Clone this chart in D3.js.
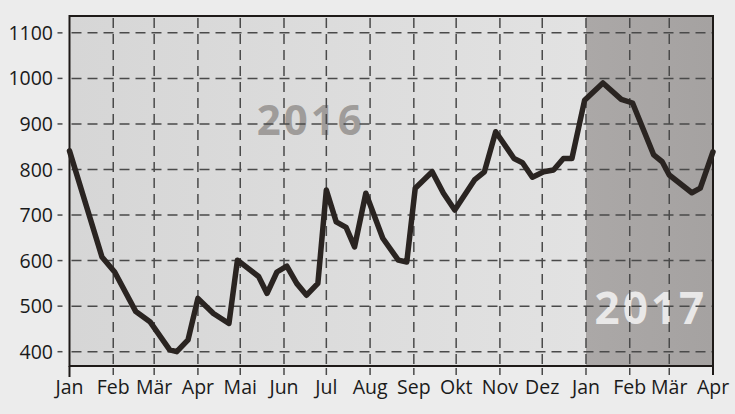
<!DOCTYPE html>
<html>
<head>
<meta charset="utf-8">
<script src="https://cdn.jsdelivr.net/npm/d3@7/dist/d3.min.js"></script>
<style>
  html, body { margin: 0; padding: 0; background: #ececec; }
  svg { display: block; }
</style>
</head>
<body>
<svg id="chart" width="735" height="414"></svg>
<script>
// ---- data ----
const dates = ["2016-01-01","2016-01-24","2016-02-02","2016-02-17","2016-02-27","2016-03-12","2016-03-17","2016-03-25","2016-04-01","2016-04-12","2016-04-23","2016-04-29","2016-05-14","2016-05-20","2016-05-27","2016-06-03","2016-06-10","2016-06-17","2016-06-25","2016-07-01","2016-07-08","2016-07-15","2016-07-21","2016-07-29","2016-08-10","2016-08-21","2016-08-27","2016-09-02","2016-09-14","2016-09-22","2016-09-30","2016-10-14","2016-10-21","2016-10-29","2016-11-11","2016-11-17","2016-11-24","2016-12-02","2016-12-09","2016-12-16","2016-12-22","2016-12-31","2017-01-13","2017-01-26","2017-02-03","2017-02-18","2017-02-24","2017-03-01","2017-03-17","2017-03-23","2017-04-01"];
const values = [841,608,575,488,466,404,400,426,517,484,462,601,565,528,575,588,550,524,550,755,685,673,630,748,649,601,597,759,795,748,711,777,795,883,824,815,783,795,799,824,824,952,990,954,946,832,817,788,749,759,839];
const monthTicks = ["2016-01-01","2016-02-01","2016-03-01","2016-04-01","2016-05-01","2016-06-01","2016-07-01","2016-08-01","2016-09-01","2016-10-01","2016-11-01","2016-12-01","2017-01-01","2017-02-01","2017-03-01","2017-04-01"];
const monthLabels = ["Jan","Feb","Mär","Apr","Mai","Jun","Jul","Aug","Sep","Okt","Nov","Dez","Jan","Feb","Mär","Apr"];
const yTicks = [400,500,600,700,800,900,1000,1100];
const periods = [{label:"2016", start:"2016-01-01", end:"2017-01-01"}, {label:"2017", start:"2017-01-01", end:"2017-04-01"}];

// ---- setup ----
const parse = d3.utcParse("%Y-%m-%d");
const svg = d3.select("#chart");
const L = 69.5, R = 713, T = 16, B = 366;
const x = d3.scaleUtc().domain([parse("2016-01-01"), parse("2017-04-01")]).range([L, R]);
const y = d3.scaleLinear().domain([368.6, 1137]).range([B, T]);
const font = "'Open Sans', sans-serif";

const defs = svg.append("defs");
const g1 = defs.append("linearGradient").attr("id","bg16").attr("x1","0").attr("x2","1").attr("y1","0").attr("y2","0");
g1.append("stop").attr("offset","0").attr("stop-color","#d6d6d6");
g1.append("stop").attr("offset","1").attr("stop-color","#e2e2e2");
const g2 = defs.append("linearGradient").attr("id","bg17").attr("x1","0").attr("x2","1").attr("y1","0").attr("y2","0");
g2.append("stop").attr("offset","0").attr("stop-color","#aba8a7");
g2.append("stop").attr("offset","1").attr("stop-color","#a5a2a1");

// period backgrounds
svg.append("rect").attr("x", x(parse(periods[0].start))).attr("y", T)
  .attr("width", x(parse(periods[0].end)) - x(parse(periods[0].start))).attr("height", B - T)
  .attr("fill", "url(#bg16)");
svg.append("rect").attr("x", x(parse(periods[1].start))).attr("y", T)
  .attr("width", x(parse(periods[1].end)) - x(parse(periods[1].start))).attr("height", B - T)
  .attr("fill", "url(#bg17)");

// year labels
svg.append("text").attr("x", x(parse("2016-06-20"))).attr("y", y(876))
  .attr("text-anchor","middle").attr("font-family",font).attr("font-weight","bold")
  .attr("font-size", 42).attr("letter-spacing", 3).attr("fill", "#9f9c9a").text(periods[0].label);
svg.append("text").attr("x", x(parse("2017-02-16"))).attr("y", y(461))
  .attr("text-anchor","middle").attr("font-family",font).attr("font-weight","bold")
  .attr("font-size", 44).attr("letter-spacing", 3).attr("fill", "#e9e8e8").text(periods[1].label);

// horizontal grid
const gridColor = "#4a4a4a";
svg.append("g").selectAll("line").data(yTicks).join("line")
  .attr("x1", L + 2).attr("x2", R).attr("y1", d => y(d)).attr("y2", d => y(d))
  .attr("stroke", gridColor).attr("stroke-width", 1.5).attr("stroke-dasharray", "10,6");
// y ticks
svg.append("g").selectAll("line").data(yTicks).join("line")
  .attr("x1", L - 12).attr("x2", L - 7).attr("y1", d => y(d)).attr("y2", d => y(d))
  .attr("stroke", gridColor).attr("stroke-width", 1.5);

// vertical grid
const innerTicks = monthTicks.slice(1, -1).map(parse);
svg.append("g").selectAll("line").data(innerTicks).join("line")
  .attr("x1", d => x(d)).attr("x2", d => x(d)).attr("y1", T + 2).attr("y2", B)
  .attr("stroke", gridColor).attr("stroke-width", 1.5).attr("stroke-dasharray", "10,6");
// x ticks below
svg.append("g").selectAll("line").data(innerTicks).join("line")
  .attr("x1", d => x(d)).attr("x2", d => x(d)).attr("y1", B + 2).attr("y2", B + 9)
  .attr("stroke", gridColor).attr("stroke-width", 1.5);

// frame
svg.append("rect").attr("x", L).attr("y", T).attr("width", R - L).attr("height", B - T)
  .attr("fill", "none").attr("stroke", "#1e1a18").attr("stroke-width", 2);
svg.append("line").attr("x1", L).attr("x2", L).attr("y1", B).attr("y2", B + 11).attr("stroke", "#1e1a18").attr("stroke-width", 2);
svg.append("line").attr("x1", R).attr("x2", R).attr("y1", B).attr("y2", B + 9).attr("stroke", "#1e1a18").attr("stroke-width", 2);

// axis labels
svg.append("g").selectAll("text").data(yTicks).join("text")
  .attr("x", 53).attr("y", d => y(d)).attr("dy", "0.36em")
  .attr("text-anchor", "end").attr("font-family", font).attr("font-size", 19.5).attr("fill", "#1a1a1a")
  .text(d => d);
svg.append("g").selectAll("text").data(monthTicks).join("text")
  .attr("x", (d) => x(parse(d))).attr("y", 394)
  .attr("text-anchor", "middle").attr("font-family", font).attr("font-size", 19.5).attr("fill", "#1a1a1a")
  .text((d, i) => monthLabels[i]);

// line
const data = dates.map((d, i) => ({ date: parse(d), value: values[i] }));
const line = d3.line().x(d => x(d.date)).y(d => y(d.value));
svg.append("path").datum(data).attr("d", line)
  .attr("fill", "none").attr("stroke", "#2a2421").attr("stroke-width", 5.5)
  .attr("stroke-linejoin", "round").attr("stroke-linecap", "round");
</script>
</body>
</html>
